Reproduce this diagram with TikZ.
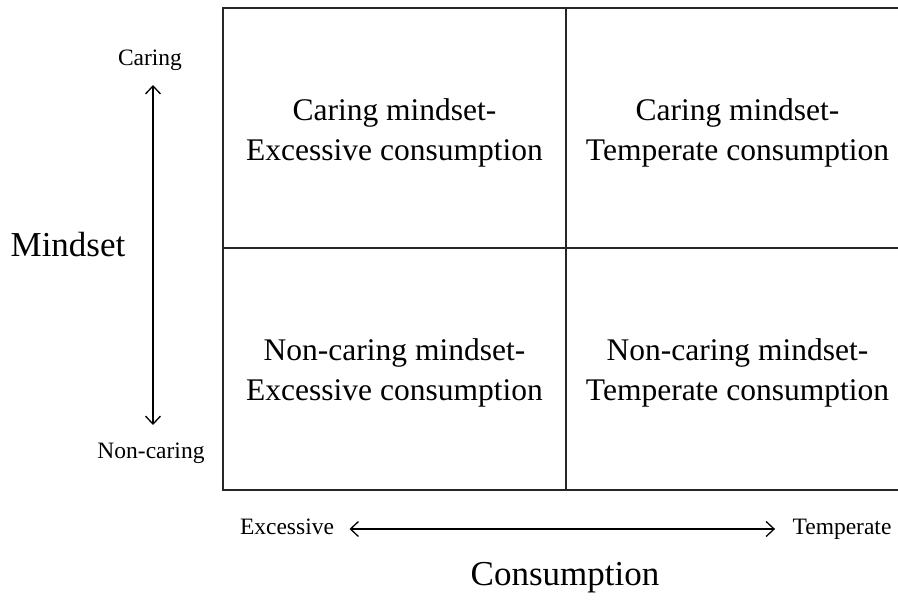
\documentclass[tikz,border=0pt]{standalone}
\usepackage{fontspec}
\setmainfont{Liberation Serif}
\usepackage{tikz}
\usetikzlibrary{calc, arrows.meta}

\tikzset{
	cell/.style = {align = center, font = \fontsize{31.5}{40}\selectfont},
	axislabel/.style = {font = \fontsize{35}{40}\selectfont},
	endlabel/.style = {font = \fontsize{23.5}{28}\selectfont, text height = 16pt, text depth = 5pt},
	axisarrow/.style = {line width = 1.3pt, {Straight Barb[length=8pt, width=15pt, line width=1.3pt]}-{Straight Barb[length=8pt, width=15pt, line width=1.3pt]}}
}

\begin{document}
\begin{tikzpicture}[x = 1pt, y = -1pt]
			\useasboundingbox (0,0) rectangle (898,600);
			\def\xl{223} \def\xm{566} \def\xr{909}
			\def\yt{8} \def\ym{248} \def\yb{490}

			% grid
			\begin{scope}[line width = 2pt, black!85]
				\draw (\xl,\yt) rectangle (\xr,\yb);
				\draw (\xm,\yt) -- (\xm,\yb);
				\draw (\xl,\ym) -- (\xr,\ym);
			\end{scope}

			\node[cell] (ce) at ({(\xl+\xm)/2}, 133) {Caring mindset-\\Excessive consumption};
			\node[cell] (ct) at ({(\xm+\xr)/2}, 133) {Caring mindset-\\Temperate consumption};
			\node[cell] (ne) at ({(\xl+\xm)/2}, 373) {Non-caring mindset-\\Excessive consumption};
			\node[cell] (nt) at ({(\xm+\xr)/2}, 373) {Non-caring mindset-\\Temperate consumption};

			% mindset axis
			\node[axislabel] (mindset) at (68,245) {Mindset};
			\node[endlabel] (caring) at (150,60) {Caring};
			\node[endlabel] (noncaring) at (151,453) {Non-caring};
			\coordinate (up) at (153,85);
			\coordinate (down) at (153,425);
			\draw[axisarrow] (down) -- (up);

			% consumption axis
			\node[endlabel] (excessive) at (287,529) {Excessive};
			\node[endlabel] (temperate) at (842,529) {Temperate};
			\node[axislabel] (consumption) at (565,578) {Consumption};
			\draw[axisarrow] ($(excessive.east)+(12,0)$) -- ($(temperate.west)+(-14,0)$);
		\end{tikzpicture}
\end{document}
